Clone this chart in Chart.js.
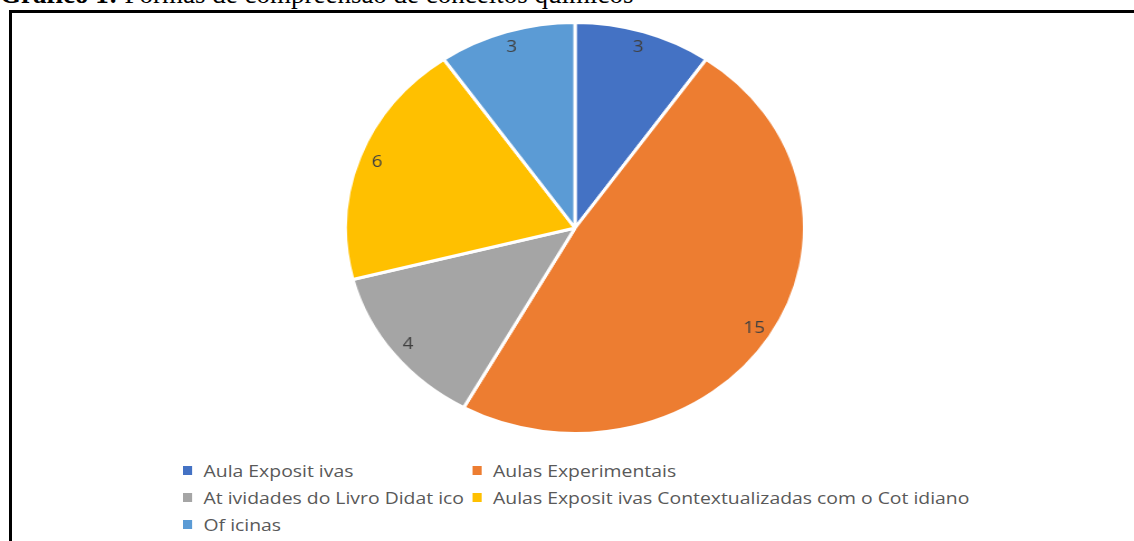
<!DOCTYPE html>
<html>
<head>
<meta charset="utf-8">
<script src="https://cdn.jsdelivr.net/npm/chart.js@4/dist/chart.umd.min.js"></script>
<style>
  html, body { margin: 0; padding: 0; background: #fff; }
  #page { position: relative; width: 1134px; height: 541px; overflow: hidden; background: #fff; }
  #title {
    position: absolute; left: 0; top: -21px; white-space: nowrap;
    font-family: "Liberation Serif", "Times New Roman", serif; font-size: 27px; color: #000;
  }
  #frame {
    position: absolute; left: 9px; top: 10px; width: 1200px; height: 600px;
    border-left: 3px solid #000; border-top: 3px solid #000; box-sizing: border-box;
  }
  #pieWrap {
    position: absolute; left: 368px; top: 21px; width: 414px; height: 414px;
    transform: scaleX(1.117); transform-origin: 207px 207px;
  }
  #legend {
    position: absolute; left: 183px; top: 457px;
    display: grid; grid-template-columns: 254px auto; row-gap: 0;
    transform: scaleX(1.14); transform-origin: 0 0;
    font-family: "Open Sans", "Noto Sans", sans-serif; font-size: 17px; color: #595959;
  }
  .item { display: flex; align-items: center; height: 27px; white-space: pre; }
  .box { width: 8px; height: 9px; margin-right: 10px; flex: none; }
</style>
</head>
<body>
<div id="page">
  <div id="title"><b>Gráfico 1:</b> Formas de compreensão de conceitos químicos</div>
  <div id="frame"></div>
  <div id="pieWrap"><canvas id="pie" width="414" height="414"></canvas></div>
  <div id="legend"></div>
</div>
<script>
// Categories and counts per teaching approach
const categories = [
  "Aula Exposit ivas",
  "Aulas Experimentais",
  "At ividades do Livro Didat ico",
  "Aulas Exposit ivas Contextualizadas com o Cot idiano",
  "Of icinas"
];
const counts = [3, 15, 4, 6, 3];
const sliceColors = ["#4472C4", "#ED7D31", "#A5A5A5", "#FFC000", "#5B9BD5"];

// The pie canvas is widened horizontally by CSS; labels are drawn un-widened
const X_STRETCH = 1.117;

const sliceLabels = {
  id: "sliceLabels",
  afterDatasetsDraw(chart) {
    const { ctx } = chart;
    const meta = chart.getDatasetMeta(0);
    ctx.save();
    ctx.font = '17px "Open Sans", "Noto Sans", sans-serif';
    ctx.fillStyle = "#404040";
    ctx.textAlign = "center";
    ctx.textBaseline = "middle";
    meta.data.forEach((arc, i) => {
      const p = arc.getProps(["x", "y", "startAngle", "endAngle", "outerRadius"], true);
      const mid = (p.startAngle + p.endAngle) / 2;
      const r = p.outerRadius * 0.92;
      const x = p.x + Math.cos(mid) * r;
      const y = p.y + Math.sin(mid) * r;
      ctx.save();
      ctx.translate(x, y);
      ctx.scale(1.1 / X_STRETCH, 1);
      ctx.fillText(String(counts[i]), 0, 0);
      ctx.restore();
    });
    ctx.restore();
  }
};

const chart = new Chart(document.getElementById("pie"), {
  type: "pie",
  data: {
    labels: categories,
    datasets: [{
      data: counts,
      backgroundColor: sliceColors,
      borderColor: "#ffffff",
      borderWidth: 3
    }]
  },
  options: {
    responsive: false,
    animation: false,
    layout: { padding: 0 },
    plugins: {
      legend: { display: false },
      tooltip: { enabled: false }
    }
  },
  plugins: [sliceLabels]
});

// Two-column legend built from the chart's own legend items
const legendEl = document.getElementById("legend");
chart.options.plugins.legend.labels.generateLabels(chart).forEach(item => {
  const row = document.createElement("div");
  row.className = "item";
  const box = document.createElement("span");
  box.className = "box";
  box.style.background = item.fillStyle;
  const txt = document.createElement("span");
  txt.textContent = item.text;
  row.appendChild(box);
  row.appendChild(txt);
  legendEl.appendChild(row);
});
</script>
</body>
</html>
